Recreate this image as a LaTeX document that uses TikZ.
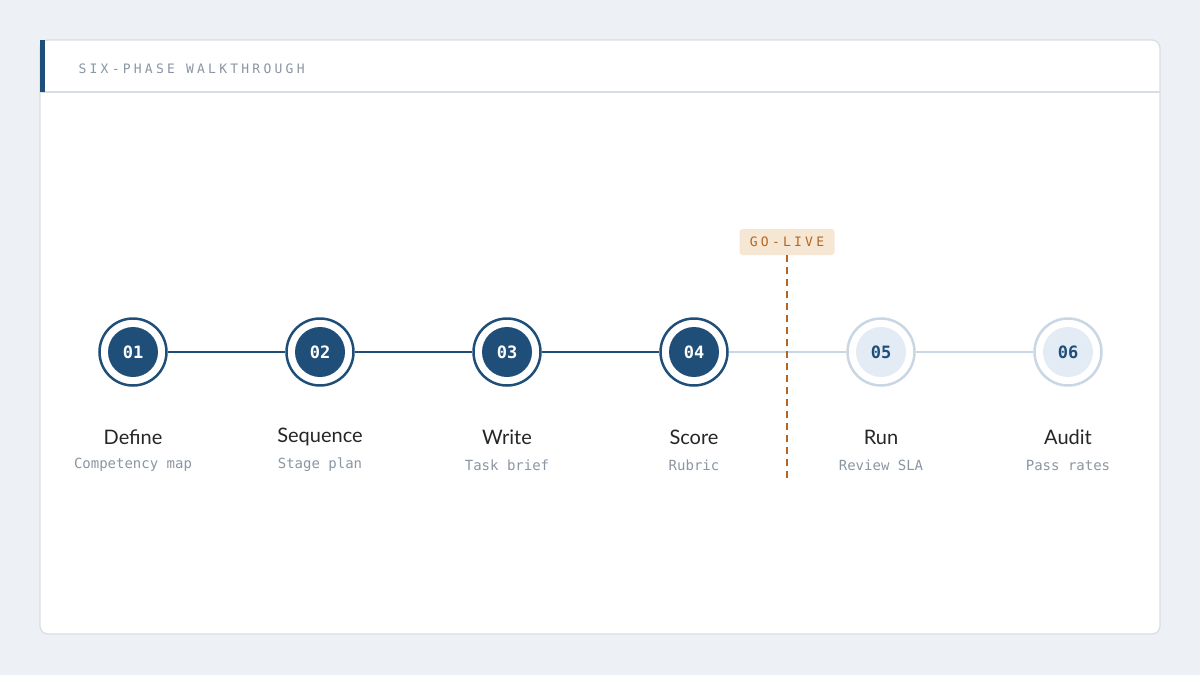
\documentclass[tikz,border=0pt]{standalone}
\usepackage{fontspec}
\setmainfont{Lato}
\setmonofont{DejaVu Sans Mono}
\newfontfamily\spacedmono[LetterSpace=25]{DejaVu Sans Mono}
\usetikzlibrary{positioning}
\definecolor{pagebg}{HTML}{EDF0F4}
\definecolor{cardline}{HTML}{D9DEE5}
\definecolor{navy}{HTML}{1F4E79}
\definecolor{paleblue}{HTML}{E3ECF5}
\definecolor{paleline}{HTML}{C9D7E4}
\definecolor{mutedtxt}{HTML}{8A96A3}
\definecolor{golive}{HTML}{B5651D}
\definecolor{golivebg}{HTML}{F6E6D4}
\tikzset{
  done/.style={circle, draw=navy, line width=2.5pt, fill=white, minimum size=67pt, inner sep=0pt},
  todo/.style={circle, draw=paleline, line width=2.5pt, fill=white, minimum size=67pt, inner sep=0pt},
  donein/.style={circle, fill=navy, text=white, minimum size=50pt, inner sep=0pt, font=\ttfamily\bfseries\fontsize{17}{17}\selectfont},
  todoin/.style={circle, fill=paleblue, text=navy, minimum size=50pt, inner sep=0pt, font=\ttfamily\bfseries\fontsize{17}{17}\selectfont},
  steptitle/.style={font=\fontsize{20}{20}\selectfont, text=black!85},
  stepsub/.style={font=\ttfamily\fontsize{14}{14}\selectfont, text=mutedtxt},
}
\begin{document}
\begin{tikzpicture}[x=1pt,y=-1pt]
\fill[pagebg] (0,0) rectangle (1200,675);
\useasboundingbox (0,0) rectangle (1200,675);
% card
\draw[cardline, fill=white, line width=1.2pt, rounded corners=8pt] (40,40) rectangle (1160,634);
\draw[cardline, line width=1.2pt] (40,92) -- (1160,92);
\fill[navy] (40,40) rectangle (44.5,92);
\node[anchor=west, text=mutedtxt, font=\spacedmono\fontsize{13}{13}\selectfont] (header) at (75,69) {SIX-PHASE WALKTHROUGH};
% steps
\foreach \i/\x/\num/\ttl/\sub in {1/133/01/Define/Competency map, 2/320/02/Sequence/Stage plan,
  3/507/03/Write/Task brief, 4/694/04/Score/Rubric, 5/881/05/Run/Review SLA, 6/1068/06/Audit/Pass rates}{
  \ifnum\i<5
    \node[done] (s\i) at (\x,352) {};
    \node[donein] (n\i) at (s\i) {\num};
  \else
    \node[todo] (s\i) at (\x,352) {};
    \node[todoin] (n\i) at (s\i) {\num};
  \fi
  \node[steptitle] (t\i) at (\x,437) {\ttl};
  \node[stepsub] (u\i) at (\x,465) {\sub};
}
\draw[navy, line width=2.5pt] (s1) -- (s2) (s2) -- (s3) (s3) -- (s4);
\draw[paleline, line width=2.5pt] (s4) -- (s5) (s5) -- (s6);
% go-live marker
\node[fill=golivebg, rounded corners=3pt, minimum width=95pt, minimum height=26pt, text=golive,
  font=\spacedmono\fontsize{13}{13}\selectfont] (live) at (787,242) {GO-LIVE};
\coordinate (liveend) at (787,480);
\draw[golive, line width=1.8pt, dash pattern=on 7pt off 5pt] (live.south) -- (liveend);
\end{tikzpicture}
\end{document}
